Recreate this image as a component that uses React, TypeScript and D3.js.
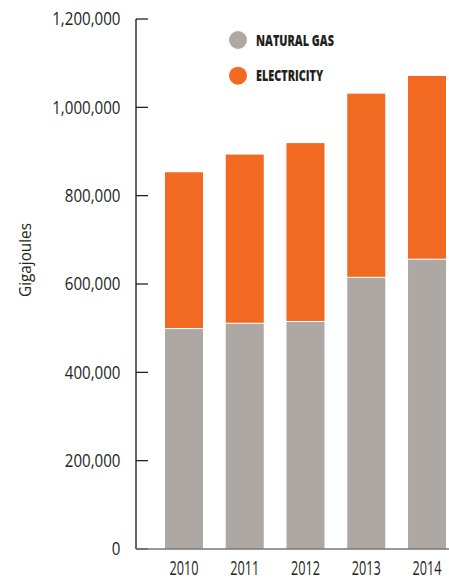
import React from "react";
import * as d3 from "d3";

const years = ["2010", "2011", "2012", "2013", "2014"];
const naturalGas = [498000, 510000, 514000, 614000, 655000];
const electricity = [355000, 383000, 405000, 417000, 416000];
const yTicks = [0, 200000, 400000, 600000, 800000, 1000000, 1200000];
const seriesNames = ["NATURAL GAS", "ELECTRICITY"];
const seriesColors = ["#ADA8A3", "#F26A22"];

const FONT = "'Open Sans', 'Noto Sans', sans-serif";

function CText(props: { x: number; y: number; sx: number; anchor?: string; size: number; weight?: string; rotate?: number; dy?: string; children: React.ReactNode }) {
  const { x, y, sx, anchor = "start", size, weight = "normal", rotate = 0, dy, children } = props;
  return (
    <text
      transform={`translate(${x},${y}) rotate(${rotate}) scale(${sx},1)`}
      textAnchor={anchor}
      fontSize={size}
      fontWeight={weight}
      dy={dy}
      fill="#231f20"
    >
      {children}
    </text>
  );
}

export default function App() {
  const W = 449, H = 581;
  const axisX = 136;
  const y = d3.scaleLinear().domain([0, 1200000]).range([549, 19]);
  const x = d3.scaleBand<string>().domain(years).range([axisX, 475]).paddingInner(0.3745).paddingOuter(0.477);
  const fmt = d3.format(",");
  const rows = years.map((yr, i) => ({ yr, gas: naturalGas[i], elec: electricity[i] }));
  const stack = d3.stack<any>().keys(["gas", "elec"])(rows);

  return (
    <svg width={W} height={H} style={{ position: "absolute", left: 0, top: 0, background: "#fff" }} fontFamily={FONT}>
      {stack.map((layer, li) => (
        <g key={li} fill={seriesColors[li]}>
          {layer.map((d, i) => {
            const top = y(d[1]);
            const bot = y(d[0]) - (li === 1 ? 1 : 0);
            return <rect key={i} x={x(years[i])} y={top} width={x.bandwidth()} height={Math.max(0, bot - top)} />;
          })}
        </g>
      ))}
      <line x1={axisX} x2={axisX} y1={y(1200000)} y2={y(0)} stroke="#111" strokeWidth={1.3} />
      {yTicks.map((t) => (
        <g key={t}>
          <line x1={axisX} x2={axisX + 12} y1={y(t)} y2={y(t)} stroke="#111" strokeWidth={1.2} />
          <CText x={120.5} y={y(t)} sx={0.84} size={18} anchor="end" dy="0.36em">
            {fmt(t)}
          </CText>
        </g>
      ))}
      <line x1={axisX} x2={W} y1={y(0)} y2={y(0)} stroke="#7a7775" strokeWidth={1.6} />
      {years.map((yr) => (
        <CText key={yr} x={(x(yr) as number) + x.bandwidth() / 2} y={575} sx={0.65} size={19.5} anchor="middle">
          {yr}
        </CText>
      ))}
      <CText x={31} y={260} sx={0.9} size={17} rotate={-90} anchor="middle">
        Gigajoules
      </CText>
      {seriesNames.map((n, i) => (
        <g key={n}>
          <circle cx={238} cy={40 + i * 35.7} r={9} fill={seriesColors[i]} />
          <CText x={256} y={40 + i * 35.7} sx={0.7} size={15.5} weight="800" dy="0.36em">
            {n}
          </CText>
        </g>
      ))}
    </svg>
  );
}
